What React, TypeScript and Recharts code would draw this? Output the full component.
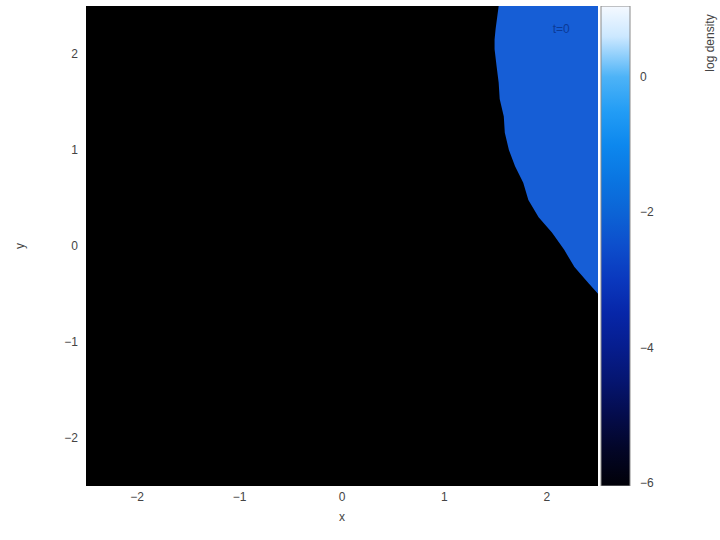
import {
  ComposedChart,
  Area,
  Bar,
  XAxis,
  YAxis,
  CartesianGrid,
  ReferenceDot,
} from 'recharts';

// edge of the dense region at t=0, read from the top down (y, x)
const edgeY = [2.5, 2.26, 2.15, 2.05, 1.87, 1.7, 1.53, 1.35, 1.18, 1.0, 0.83, 0.66, 0.48, 0.3, 0.14, -0.04, -0.22, -0.39, -0.51];
const edgeX = [1.53, 1.5, 1.49, 1.49, 1.51, 1.53, 1.54, 1.58, 1.59, 1.63, 1.69, 1.77, 1.82, 1.92, 2.05, 2.17, 2.27, 2.41, 2.51];

const axisTicks = [-2, -1, 0, 1, 2];
const minorTicks = [-2.4, -2.2, -2, -1.8, -1.6, -1.4, -1.2, -1, -0.8, -0.6, -0.4, -0.2, 0, 0.2, 0.4, 0.6, 0.8, 1, 1.2, 1.4, 1.6, 1.8, 2, 2.2, 2.4];
const barTicks = [-6, -4, -2, 0];
const barMarks = [-6, -5, -4, -3, -2, -1, 0, 1];
const barRange: [number, number] = [-6.05, 1.05];

const COLORMAP = [
  { v: 1.05, c: '#f5f9ff' },
  { v: 0.6, c: '#cce8ff' },
  { v: 0, c: '#4db3f7' },
  { v: -0.5, c: '#239df5' },
  { v: -1, c: '#0d88ee' },
  { v: -1.5, c: '#0a76e2' },
  { v: -2, c: '#0c64d6' },
  { v: -2.5, c: '#0d4ecc' },
  { v: -3, c: '#0a38be' },
  { v: -3.5, c: '#0726a8' },
  { v: -4, c: '#061d8e' },
  { v: -4.5, c: '#051570' },
  { v: -5, c: '#040c4c' },
  { v: -5.5, c: '#030628' },
  { v: -6.05, c: '#010108' },
];

const data = edgeY.map((y, i) => ({ y, x: edgeX[i] }));
const barData = [{ name: 'log density', range: barRange }];

const fmt = (v: number) => (v < 0 ? '\u2212' + Math.abs(v) : String(v));
const tickStyle = { fill: '#444', fontSize: 12, fontFamily: 'Liberation Sans' };
const innerTick = { stroke: '#0c2f7a', strokeWidth: 1 };

export default function App() {
  return (
    <div style={{ position: 'absolute', left: 0, top: 0, width: 720, height: 540, background: '#fff' }}>
      <div style={{ position: 'absolute', left: 0, top: 0 }}>
        <ComposedChart
          width={720}
          height={540}
          layout="vertical"
          data={data}
          margin={{ top: 6, right: 122, bottom: 0, left: 0 }}
        >
          <CartesianGrid fill="#000" stroke="none" />
          <XAxis
            type="number"
            domain={[-2.5, 2.5]}
            ticks={axisTicks}
            allowDataOverflow
            height={54}
            tickLine={false}
            axisLine={false}
            tickSize={4}
            tick={tickStyle}
            tickFormatter={fmt}
            label={{
              content: (p: any) => (
                <text
                  x={p.viewBox.x + p.viewBox.width / 2}
                  y={p.viewBox.y + 35}
                  textAnchor="middle"
                  fill="#444"
                  fontSize={12}
                  fontFamily="Liberation Sans"
                >
                  x
                </text>
              ),
            }}
          />
          <XAxis
            xAxisId="top"
            type="number"
            orientation="top"
            mirror
            height={0}
            domain={[-2.5, 2.5]}
            ticks={minorTicks}
            allowDataOverflow
            tick={false}
            tickLine={innerTick}
            tickSize={4}
            axisLine={false}
          />
          <YAxis
            type="number"
            dataKey="y"
            domain={[-2.5, 2.5]}
            reversed
            ticks={axisTicks}
            allowDataOverflow
            width={86}
            tickLine={false}
            axisLine={false}
            tick={tickStyle}
            tickFormatter={fmt}
            label={{
              content: (p: any) => {
                const cy = p.viewBox.y + p.viewBox.height / 2;
                return (
                  <text
                    x={20}
                    y={cy}
                    transform={`rotate(-90 20 ${cy})`}
                    textAnchor="middle"
                    dominantBaseline="central"
                    fill="#444"
                    fontSize={12}
                    fontFamily="Liberation Sans"
                  >
                    y
                  </text>
                );
              },
            }}
          />
          <YAxis
            yAxisId="right"
            type="number"
            orientation="right"
            mirror
            width={0}
            domain={[-2.5, 2.5]}
            reversed
            ticks={minorTicks}
            allowDataOverflow
            tick={false}
            tickLine={innerTick}
            tickSize={4}
            axisLine={false}
          />
          <Area
            type="linear"
            dataKey="x"
            baseValue={2.5}
            fill="#165ed6"
            fillOpacity={1}
            stroke="none"
            isAnimationActive={false}
          />
          <ReferenceDot
            x={2.14}
            y={2.26}
            r={0}
            stroke="none"
            label={{ value: 't=0', position: 'center', fill: '#0b3a96', fontSize: 12, fontFamily: 'Liberation Sans' }}
          />
        </ComposedChart>
      </div>
      <div style={{ position: 'absolute', left: 0, top: 0 }}>
        <ComposedChart
          width={720}
          height={540}
          data={barData}
          barCategoryGap={0}
          margin={{ top: 6, right: 0, bottom: 54, left: 601 }}
        >
          <defs>
            <linearGradient id="cbar" x1="0" y1="0" x2="0" y2="1">
              {COLORMAP.map((s) => (
                <stop
                  key={s.v}
                  offset={(barRange[1] - s.v) / (barRange[1] - barRange[0])}
                  stopColor={s.c}
                />
              ))}
            </linearGradient>
          </defs>
          <XAxis dataKey="name" type="category" hide />
          <YAxis
            yAxisId="inL"
            type="number"
            orientation="left"
            mirror
            width={0}
            domain={barRange}
            ticks={barMarks}
            allowDataOverflow
            tick={false}
            tickLine={{ stroke: '#1b4d8a', strokeWidth: 1.5 }}
            tickSize={4}
            axisLine={false}
          />
          <YAxis
            type="number"
            orientation="right"
            domain={barRange}
            ticks={barTicks}
            allowDataOverflow
            width={90}
            tickLine={false}
            axisLine={false}
            tickSize={8}
            tick={tickStyle}
            tickFormatter={fmt}
            label={{
              content: () => (
                <text
                  x={710}
                  y={43}
                  transform="rotate(-90 710 43)"
                  textAnchor="middle"
                  dominantBaseline="central"
                  fill="#444"
                  fontSize={12}
                  fontFamily="Liberation Sans"
                >
                  log density
                </text>
              ),
            }}
          />
          <Bar
            dataKey="range"
            fill="url(#cbar)"
            stroke="#8a8a8a"
            strokeWidth={1}
            isAnimationActive={false}
          />
          <YAxis
            yAxisId="inR"
            type="number"
            orientation="right"
            mirror
            width={0}
            domain={barRange}
            ticks={barMarks}
            allowDataOverflow
            tick={false}
            tickLine={{ stroke: '#1b4d8a', strokeWidth: 1.5 }}
            tickSize={4}
            axisLine={false}
          />
        </ComposedChart>
      </div>
    </div>
  );
}
